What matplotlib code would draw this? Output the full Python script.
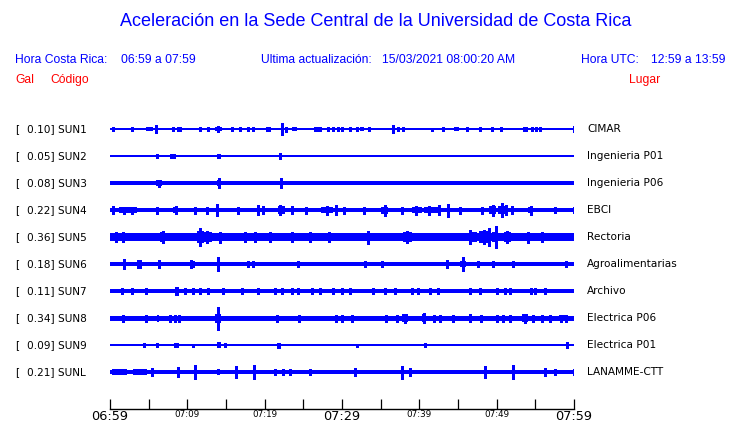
import matplotlib
matplotlib.use("Agg")
import matplotlib.pyplot as plt
from matplotlib.transforms import blended_transform_factory

# station codes, peak values (gal) and place names
codes = ["SUN1", "SUN2", "SUN3", "SUN4", "SUN5", "SUN6", "SUN7", "SUN8", "SUN9", "SUNL"]
gal = [0.10, 0.05, 0.08, 0.22, 0.36, 0.18, 0.11, 0.34, 0.09, 0.21]
places = ["CIMAR", "Ingenieria P01", "Ingenieria P06", "EBCI", "Rectoria",
          "Agroalimentarias", "Archivo", "Electrica P06", "Electrica P01", "LANAMME-CTT"]

# background noise level of each trace (half width, pixels of trace spacing 27)
base_amp = [0.8, 0.7, 1.9, 2.3, 3.7, 1.7, 2.2, 2.5, 0.7, 2.1]

# spikes: (minute after 06:59, half amplitude)
spk_sun1 = [(0.4, 2), (2.8, 2), (5.9, 4), (8.1, 2), (8.8, 2), (9.1, 2), (11.6, 2), (12.7, 2),
            (14.0, 3), (15.8, 2), (16.8, 2), (17.8, 2), (18.5, 2), (20.3, 2), (20.5, 2),
            (22.3, 6), (22.8, 2.5), (26.5, 2), (26.8, 2), (27.2, 2), (28.2, 2), (28.8, 2),
            (29.5, 2), (30.0, 2), (31.0, 2), (31.9, 2), (33.5, 2), (36.6, 4), (37.2, 2),
            (37.9, 2), (41.6, 1.5), (43.1, 2), (46.2, 2), (47.8, 2), (49.4, 2), (50.6, 2),
            (53.5, 2), (53.8, 2), (54.6, 2), (55.1, 2), (55.6, 2), (60, 3)]
spk_sun2 = [(6.1, 2), (7.9, 2), (8.3, 2), (22.0, 3)]
spk_sun3 = [(6.3, 3.5), (14.1, 5), (22.1, 5)]
spk_sun4 = [(0.4, 4), (1.8, 3.5), (2.9, 3.5), (6.1, 3.5), (8.5, 4), (11.0, 3.5), (12.6, 3.5),
            (13.8, 6), (16.5, 3.5), (19.1, 5), (19.8, 4), (22.0, 5), (23.5, 4), (25.4, 3.5),
            (28.0, 4.5), (29.2, 5), (30.2, 3.5), (32.8, 3.5), (35.6, 5.5), (37.7, 3.5),
            (39.6, 4.5), (41.2, 4.5), (42.6, 5), (43.7, 6.5), (45.2, 3.5), (48.1, 3.5),
            (49.5, 5.5), (50.7, 7), (51.2, 5), (52.0, 4), (54.4, 4.5), (57.5, 3), (60, 3)]
spk_sun5 = [(0.8, 5), (1.7, 5), (6.8, 6), (11.6, 9), (12.5, 6), (14.2, 5.5), (17.5, 5),
            (18.8, 5), (20.7, 5), (23.5, 5), (25.9, 5), (28.3, 5), (33.4, 6.5), (38.4, 6),
            (46.6, 7), (48.3, 7), (49.0, 9), (49.9, 11), (51.3, 6), (54.0, 5.5), (55.8, 5)]
spk_sun6 = [(1.8, 5), (3.6, 4), (3.9, 4), (6.3, 4), (10.5, 4), (10.7, 3), (14.0, 7), (17.8, 3),
            (18.5, 3), (24.3, 3), (33.0, 3), (35.2, 3), (43.6, 4), (45.6, 7), (47.6, 3),
            (49.5, 3), (52.1, 3), (59.0, 3)]
spk_sun7 = [(1.5, 3), (2.8, 3), (4.6, 3), (8.5, 4), (8.7, 4), (9.7, 3), (10.7, 3), (11.7, 3),
            (12.7, 3), (14.6, 3), (17.1, 3), (19.1, 3), (21.3, 3), (22.2, 3), (23.5, 3),
            (24.3, 3), (26.1, 3), (27.2, 3), (28.8, 3), (30.0, 3), (31.0, 3), (34.0, 3),
            (35.6, 3), (36.9, 3), (39.1, 3), (39.8, 3), (41.4, 3), (42.4, 3), (46.6, 3),
            (47.8, 3), (50.0, 3), (51.1, 3), (51.7, 3), (54.5, 3), (55.0, 3), (56.3, 3)]
spk_sun8 = [(1.7, 3.5), (4.6, 3.5), (7.8, 3.5), (8.4, 3.5), (8.9, 3.5), (14.0, 11.5),
            (21.6, 3.5), (24.4, 3.5), (29.2, 3.5), (30.0, 3.5), (31.3, 3.5), (35.7, 3.5),
            (37.1, 3.5), (38.1, 4.5), (40.6, 5), (41.9, 3.5), (42.7, 3.5), (44.4, 3.5),
            (46.6, 4), (48.0, 3.5), (50.0, 3.5), (50.8, 3.5), (51.7, 3.5), (53.6, 4.5),
            (54.7, 3.5), (55.9, 3.5), (56.9, 3.5), (58.3, 3.5), (59.0, 3.5)]
spk_sun9 = [(4.4, 2), (6.1, 2), (8.4, 2), (8.6, 2), (10.7, 1.5), (14.9, 2), (21.7, 2.5),
            (21.9, 2.5), (31.9, 1.5), (40.7, 2), (59.1, 3)]
spk_sunl = [(5.4, 4), (8.8, 5), (11.0, 7), (16.3, 6), (18.6, 7), (21.3, 3), (22.4, 3),
            (23.3, 3), (25.9, 3), (31.7, 4), (37.8, 6.5), (38.8, 4), (48.5, 6), (52.1, 7),
            (56.3, 4), (57.5, 3), (60, 3)]

# bursts: (start minute, end minute, half amplitude)
brs_sun1 = [(4.7, 5.6, 2), (13.6, 14.5, 2), (23.5, 24.2, 2), (32.3, 32.9, 2), (44.5, 45.1, 2)]
brs_sun2 = [(13.8, 14.4, 2.5)]
brs_sun3 = [(6.0, 6.7, 2.6), (13.9, 14.3, 2.8)]
brs_sun4 = [(0.2, 0.7, 3), (1.2, 3.5, 2.7), (8.2, 8.8, 3), (21.7, 22.6, 3.8), (27.3, 28.8, 3.2),
            (35.1, 35.9, 3.5), (39.0, 40.3, 3.2), (40.6, 42.4, 3.2), (49.0, 49.9, 4),
            (50.2, 51.5, 4), (54.1, 54.7, 3.2)]
brs_sun5 = [(0.0, 2.2, 4.3), (6.5, 7.1, 4.6), (11.2, 12.1, 6), (12.1, 13.2, 4.6),
            (16.8, 19.4, 4.3), (37.9, 39.1, 4.6), (46.5, 47.5, 5), (47.7, 49.0, 6),
            (49.4, 50.0, 5), (50.9, 51.8, 4.6)]
brs_sun6 = [(17.6, 18.6, 2.4), (45.2, 46.0, 3), (58.5, 59.5, 2.3)]
brs_sun7 = []
brs_sun8 = [(6.1, 6.4, 3.5), (13.6, 14.4, 4.5), (37.8, 38.5, 3.8), (40.3, 40.9, 4),
            (53.3, 54.0, 3.8), (58.0, 59.2, 3)]
brs_sun9 = [(13.8, 14.3, 3)]
brs_sunl = [(0.2, 2.2, 2.7), (3.0, 4.8, 2.7), (10.8, 11.3, 4.5), (13.8, 14.2, 3.2)]

spikes = [spk_sun1, spk_sun2, spk_sun3, spk_sun4, spk_sun5, spk_sun6, spk_sun7, spk_sun8, spk_sun9, spk_sunl]
bursts = [brs_sun1, brs_sun2, brs_sun3, brs_sun4, brs_sun5, brs_sun6, brs_sun7, brs_sun8, brs_sun9, brs_sunl]

tick_min = list(range(0, 61, 5))
tick_lbl = {0: "06:59", 10: "07:09", 20: "07:19", 30: "07:29", 40: "07:39", 50: "07:49", 60: "07:59"}
big_lbl = [0, 30, 60]

BLUE = "#0000ff"
RED = "#ff0000"
gain = 1 / 27.0

fig = plt.figure(figsize=(7.4, 4.23), dpi=100)
ax = fig.add_axes([110 / 740, 14 / 423, 464 / 740, 294 / 423])
ax.set_xlim(0, 60)
ax.set_ylim(-10.37, 0.52)

for i in range(len(codes)):
    y = -i
    b = base_amp[i] * gain
    ax.fill_between([0, 60], y - b, y + b, color=BLUE, lw=0, antialiased=False)
    for t0, t1, a in bursts[i]:
        ax.fill_between([t0, t1], y - a * gain, y + a * gain, color=BLUE, lw=0, antialiased=False)
    ts = [s[0] for s in spikes[i]]
    amps = [s[1] * gain for s in spikes[i]]
    ax.vlines(ts, [y - a for a in amps], [y + a for a in amps], color=BLUE, lw=0.8, antialiased=False)

for s in ["left", "right", "top"]:
    ax.spines[s].set_visible(False)
ax.spines["bottom"].set_linewidth(1.0)
ax.set_yticks([])
ax.set_xticks(tick_min)
ax.set_xticklabels([tick_lbl.get(m, "") for m in tick_min])
ax.tick_params(axis="x", direction="in", length=7.2, width=0.9, pad=0.5)
for m, lab in zip(tick_min, ax.get_xticklabels()):
    lab.set_fontsize(9.3 if m in big_lbl else 6.3)

# station labels
tr = blended_transform_factory(fig.transFigure, ax.transData)
for i in range(len(codes)):
    ax.text(15 / 740, -i, "[", transform=tr, fontsize=7.6, va="center", ha="left")
    ax.text(27 / 740, -i, f"{gal[i]:.2f}] {codes[i]}", transform=tr, fontsize=7.6, va="center", ha="left")
    ax.text(587 / 740, -i, places[i], transform=tr, fontsize=7.6, va="center", ha="left")

# header
hf = "Liberation Sans"
fig.text(376 / 740, 1 - 22 / 423, "Aceleración en la Sede Central de la Universidad de Costa Rica",
         family=hf, fontsize=13, color=BLUE, ha="center", va="center")
y2 = 1 - 60 / 423
fig.text(15 / 740, y2, "Hora Costa Rica:", family=hf, fontsize=8.7, color=BLUE, va="center")
fig.text(121 / 740, y2, "06:59 a 07:59", family=hf, fontsize=8.7, color=BLUE, va="center")
fig.text(261 / 740, y2, "Ultima actualización:", family=hf, fontsize=8.7, color=BLUE, va="center")
fig.text(382 / 740, y2, "15/03/2021 08:00:20 AM", family=hf, fontsize=8.7, color=BLUE, va="center")
fig.text(581 / 740, y2, "Hora UTC:", family=hf, fontsize=8.7, color=BLUE, va="center")
fig.text(651 / 740, y2, "12:59 a 13:59", family=hf, fontsize=8.7, color=BLUE, va="center")
y3 = 1 - 80 / 423
fig.text(15 / 740, y3, "Gal", family=hf, fontsize=8.7, color=RED, va="center")
fig.text(50 / 740, y3, "Código", family=hf, fontsize=8.7, color=RED, va="center")
fig.text(629 / 740, y3, "Lugar", family=hf, fontsize=8.7, color=RED, va="center")

fig.savefig("out.png", dpi=100)
